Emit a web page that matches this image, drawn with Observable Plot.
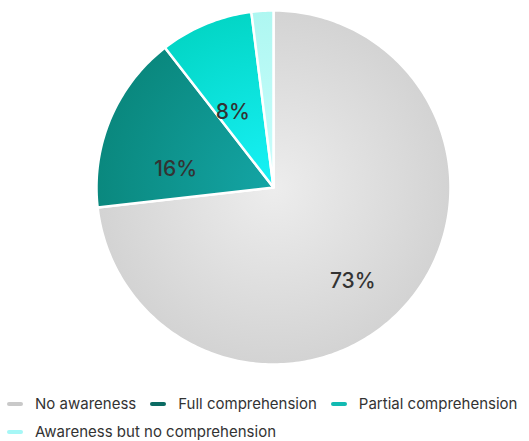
<!DOCTYPE html>
<html>
<head>
<meta charset="utf-8">
<script src="https://cdn.jsdelivr.net/npm/d3@7"></script>
<script src="https://cdn.jsdelivr.net/npm/@observablehq/plot@0.6"></script>
<style>
  body { margin: 0; background: #fff; font-family: Inter, "Noto Sans", sans-serif; }
  #chart svg { display: block; }
  .legend { display: flex; flex-wrap: wrap; width: 529px; padding: 0 0 0 7px; box-sizing: border-box; margin-top: 9px; row-gap: 8px; column-gap: 14px; }
  .item { display: flex; align-items: center; font-size: 15px; color: #333; line-height: 20px; white-space: nowrap; }
  .sw { width: 16px; height: 4px; border-radius: 2px; margin-right: 12px; }
</style>
</head>
<body>
<div id="chart"></div>
<div class="legend" id="legend"></div>
<script>
const categories = ["No awareness", "Full comprehension", "Partial comprehension", "Awareness but no comprehension"];
const values = [73.2, 16.3, 8.5, 2.0];
const labels = ["73%", "16%", "8%", ""];
const legendColors = ["#c9c9c9", "#0b6b63", "#12bab2", "#a6f7f6"];
const innerColors = ["#ededed", "#14a5a5", "#18f2f7", "#cafefd"];
const outerColors = ["#d3d3d3", "#0a887e", "#03d6c6", "#aef7f1"];

const W = 529, H = 385, cx = 273, cy = 187, R = 177;

const pie = d3.pie().sort(null).value(d => d)(values);
// polygon points per slice (center + arc sampled)
const pts = [];
pie.forEach((s, i) => {
  pts.push({k: i, x: 0, y: 0});
  const n = Math.max(4, Math.ceil((s.endAngle - s.startAngle) / (Math.PI / 180)));
  for (let j = 0; j <= n; j++) {
    const a = s.startAngle + (s.endAngle - s.startAngle) * j / n;
    pts.push({k: i, x: Math.sin(a), y: Math.cos(a)});
  }
});
const lab = pie.map((s, i) => {
  const a = (s.startAngle + s.endAngle) / 2;
  return {t: labels[i], x: 0.6 * Math.sin(a), y: 0.6 * Math.cos(a)};
});

const defs = () => {
  const ns = "http://www.w3.org/2000/svg";
  const d = document.createElementNS(ns, "defs");
  values.forEach((v, i) => {
    const g = document.createElementNS(ns, "radialGradient");
    g.setAttribute("id", "g" + i);
    g.setAttribute("gradientUnits", "userSpaceOnUse");
    g.setAttribute("cx", cx); g.setAttribute("cy", cy); g.setAttribute("r", R);
    [[0, innerColors[i]], [1, outerColors[i]]].forEach(([o, c]) => {
      const st = document.createElementNS(ns, "stop");
      st.setAttribute("offset", o); st.setAttribute("stop-color", c);
      g.appendChild(st);
    });
    d.appendChild(g);
  });
  return d;
};

const plot = Plot.plot({
  width: W, height: H,
  x: {domain: [-1, 1], range: [cx - R, cx + R], axis: null},
  y: {domain: [-1, 1], range: [cy + R, cy - R], axis: null},
  style: {fontFamily: "Inter, 'Noto Sans', sans-serif", background: "#fff"},
  marks: [
    defs,
    ...values.map((v, i) => Plot.line(pts.filter(p => p.k === i), {
      x: "x", y: "y", curve: "linear-closed",
      fill: `url(#g${i})`, stroke: "#fff", strokeWidth: 2.5, strokeLinejoin: "round"
    })),
    Plot.text(lab, {x: "x", y: "y", text: "t", dy: 23, fontSize: 21, fill: "#333", fontWeight: 500})
  ]
});
document.getElementById("chart").appendChild(plot);

const leg = document.getElementById("legend");
categories.forEach((c, i) => {
  const it = document.createElement("div"); it.className = "item";
  const sw = document.createElement("span"); sw.className = "sw"; sw.style.background = legendColors[i];
  it.appendChild(sw); it.appendChild(document.createTextNode(c));
  leg.appendChild(it);
});
</script>
</body>
</html>
